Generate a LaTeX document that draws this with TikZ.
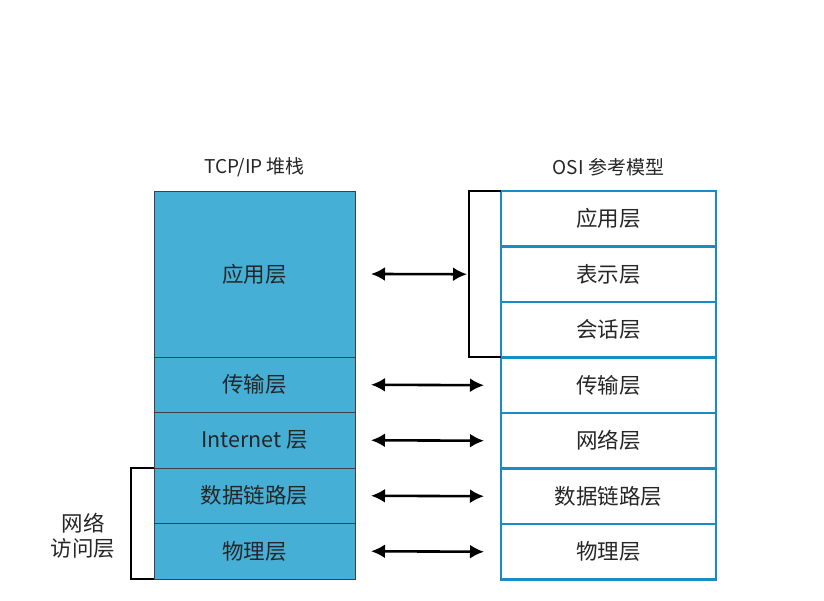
\documentclass[tikz,border=0pt]{standalone}
\usepackage{fontspec}
\newfontfamily\cjk{Noto Sans CJK SC}
\usetikzlibrary{positioning,arrows.meta}
\definecolor{tcpfill}{RGB}{70,175,213}
\definecolor{osiline}{RGB}{24,140,196}

\begin{document}
\begin{tikzpicture}[
  x=1pt, y=1pt,
  font=\cjk\fontsize{21.5}{24}\selectfont,
  layer/.style={draw, outer sep=0pt, inner sep=0pt, align=center, text=black!85},
  tcpbox/.style={layer, fill=tcpfill, draw=black!75, line width=0.9pt,
                 minimum width=201pt, minimum height=55.5pt},
  osibox/.style={layer, fill=white, draw=osiline, line width=2.4pt,
                 minimum width=215pt, minimum height=55.5pt},
  bracket/.style={draw=black, line width=2pt},
  flow/.style={{Latex[length=14pt,width=14pt]}-{Latex[length=14pt,width=14pt]},
               line width=2.6pt},
  title/.style={font=\cjk\fontsize{19}{22}\selectfont, text=black!85},
]
\useasboundingbox (0,0) rectangle (824,601);

% TCP/IP stack
\node[tcpbox, anchor=north west, minimum height=166pt] (tapp) at (154,410) {应用层};
\node[tcpbox, below=0pt of tapp]   (ttrans) {传输层};
\node[tcpbox, below=0pt of ttrans] (tnet)   {Internet 层};
\node[tcpbox, below=0pt of tnet]   (tlink)  {数据链路层};
\node[tcpbox, below=0pt of tlink]  (tphys)  {物理层};

% OSI model
\node[osibox, anchor=north west] (oapp) at (501,410) {应用层};
\node[osibox, below=0pt of oapp]   (opres)  {表示层};
\node[osibox, below=0pt of opres]  (oses)   {会话层};
\node[osibox, below=0pt of oses]   (otrans) {传输层};
\node[osibox, below=0pt of otrans] (onet)   {网络层};
\node[osibox, below=0pt of onet]   (olink)  {数据链路层};
\node[osibox, below=0pt of olink]  (ophys)  {物理层};

% titles
\node[title, above=11pt of tapp.north] (ttitle) {TCP/IP 堆栈};
\node[title, above=11pt of oapp.north] (otitle) {OSI 参考模型};

% brackets
\draw[bracket] (oapp.north west) -- ++(-32,0) coordinate (brk) |- (oses.south west);
\draw[bracket] (tlink.north west) -- ++(-23,0) |- (tphys.south west);
\node[align=center, text=black!85, font=\cjk\fontsize{21.5}{25}\selectfont]
  (access) at (83,65) {网络\\访问层};
\coordinate (brkmid) at (brk |- opres);

% arrows
\draw[flow] ([xshift=16pt]tapp.east) -- ([xshift=-2pt]brkmid);
\foreach \l/\r in {ttrans/otrans, tnet/onet, tlink/olink, tphys/ophys}
  \draw[flow] ([xshift=16pt]\l.east) -- ([xshift=-17pt]\r.west);

\end{tikzpicture}
\end{document}
